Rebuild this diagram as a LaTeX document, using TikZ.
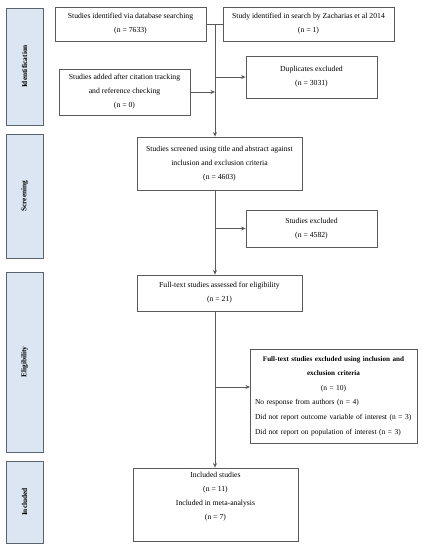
\documentclass[tikz,border=0pt]{standalone}
\usepackage{fontspec}
\setmainfont{Liberation Serif}
\usetikzlibrary{arrows.meta}
\definecolor{barfill}{RGB}{220,230,242}
\definecolor{barline}{RGB}{90,100,110}
\definecolor{boxline}{RGB}{90,90,90}
\begin{document}
\begin{tikzpicture}[x=1pt,y=-1pt,
  every node/.style={font=\fontsize{7.7}{14}\selectfont},
  bar/.style={draw=barline,line width=0.9pt,fill=barfill,inner sep=0pt},
  barlabel/.style={rotate=90,font=\fontsize{7.4}{8}\selectfont\bfseries},
  fbox/.style={draw=boxline,line width=0.8pt,fill=white,inner sep=0pt,align=center},
  conn/.style={draw=boxline,line width=0.7pt},
  arr/.style={conn,-{Stealth[length=4.5pt,width=4pt]}}]
\useasboundingbox (0,0) rectangle (424,550);
% side bars
\node[bar,minimum width=37pt,minimum height=117pt] (b1) at (24.5,66.5) {};
\node[barlabel] (l1) at (b1.center) {Identification};
\node[bar,minimum width=37pt,minimum height=124pt] (b2) at (24.5,196) {};
\node[barlabel] (l2) at (b2.center) {Screening};
\node[bar,minimum width=37pt,minimum height=180pt] (b3) at (24.5,362) {};
\node[barlabel] (l3) at (b3.center) {Eligibility};
\node[bar,minimum width=37pt,minimum height=82pt] (b4) at (24.5,502) {};
\node[barlabel] (l4) at (b4.center) {Included};
% boxes
\node[fbox,minimum width=151pt,minimum height=34pt] (db) at (130.5,24) {Studies identified via database searching\\(n = 7633)};
\node[fbox,minimum width=171pt,minimum height=34pt] (za) at (308.5,24) {Study identified in search by Zacharias et al 2014\\(n = 1)};
\node[fbox,minimum width=131pt,minimum height=42pt] (dup) at (311.5,77) {Duplicates excluded\\(n = 3031)};
\node[fbox,minimum width=131pt,minimum height=46pt] (add) at (124.5,92) {Studies added after citation tracking\\and reference checking\\(n = 0)};
\node[fbox,minimum width=165pt,minimum height=53pt] (scr) at (219.5,163.5) {Studies screened using title and abstract against\\inclusion and exclusion criteria\\(n = 4603)};
\node[fbox,minimum width=131pt,minimum height=37pt] (exc) at (311.5,228.5) {Studies excluded\\(n = 4582)};
\node[fbox,minimum width=165pt,minimum height=36pt] (ft) at (219.5,293) {Full-text studies assessed for eligibility\\(n = 21)};
\node[draw=boxline,line width=0.8pt,fill=white,inner xsep=5pt,inner ysep=0pt,minimum width=167pt,minimum height=94pt,text width=157pt,font=\fontsize{7.5}{14.6}\selectfont] (fte) at (333.5,396) {{\centering{\fontsize{7.1}{14.6}\selectfont\textbf{Full-text studies excluded using inclusion and}\\\textbf{exclusion criteria}}\\(n = 10)\par}\raggedright No response from authors (n = 4)\\Did not report outcome variable of interest (n = 3)\\Did not report on population of interest (n = 3)};
\node[fbox,minimum width=165pt,minimum height=73pt] (inc) at (215.5,504.5) {Included studies\\(n = 11)\\Included in meta-analysis\\(n = 7)\\[4pt]};
% connectors
\coordinate (j1) at (215,24);
\coordinate (a3) at (250,387);
\draw[conn] (db.east) -- (za.west);
\draw[arr] (j1) -- (j1 |- scr.north);
\draw[arr] (add.east) -- (add.east -| j1);
\draw[arr] (j1 |- dup.west) -- (dup.west);
\draw[arr] (j1 |- scr.south) -- (j1 |- ft.north);
\draw[arr] (j1 |- exc.west) -- (exc.west);
\draw[arr] (j1 |- ft.south) -- (j1 |- inc.north);
\draw[arr] (j1 |- a3) -- (a3);
\end{tikzpicture}
\end{document}
